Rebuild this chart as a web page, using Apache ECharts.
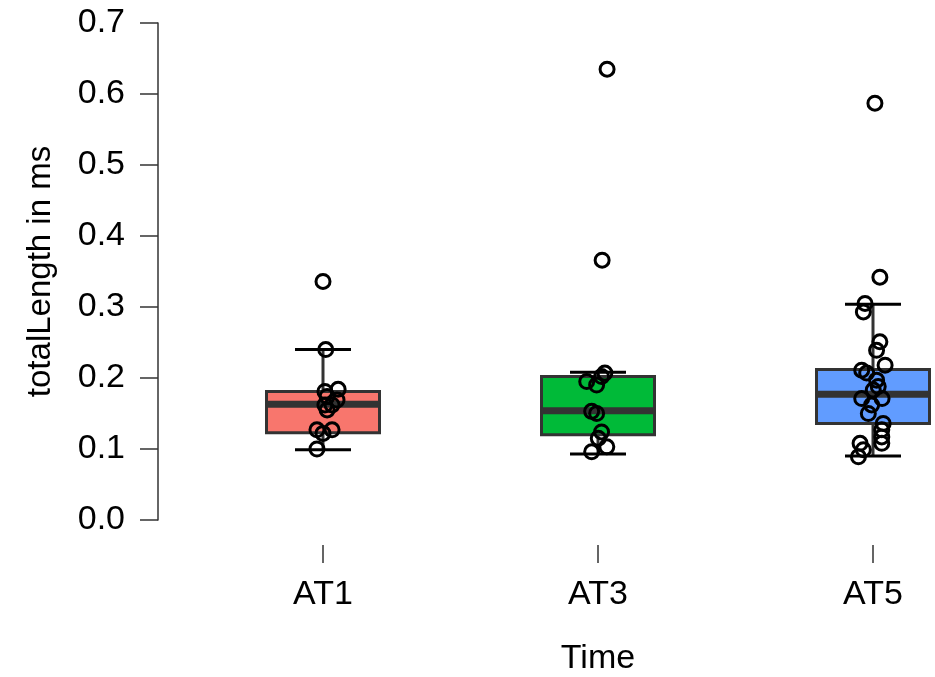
<!DOCTYPE html>
<html><head><meta charset="utf-8">
<script src="https://cdn.jsdelivr.net/npm/echarts@6/dist/echarts.min.js"></script>
<style>html,body{margin:0;padding:0;background:#fff}#c{width:935px;height:677px}</style>
</head><body><div id="c"></div>
<script>
// ---- data ----
const categories = ['AT1', 'AT3', 'AT5'];
const boxColors = ['#F8766D', '#00BA38', '#619CFF'];
// [min whisker, Q1, median, Q3, max whisker]
const boxAT1 = [0.099, 0.123, 0.163, 0.181, 0.240];
const boxAT3 = [0.093, 0.120, 0.154, 0.202, 0.208];
const boxAT5 = [0.090, 0.136, 0.177, 0.212, 0.304];
// jittered points: [x position (category index 1..3 + jitter), value]
const pointsAT1 = [[1.000,0.336],[1.010,0.240],[1.055,0.184],[1.007,0.181],[1.015,0.174],[1.051,0.169],
  [1.007,0.162],[1.033,0.162],[1.015,0.155],[0.978,0.127],[1.033,0.127],[1.000,0.122],[0.978,0.100]];
const pointsAT3 = [[2.033,0.635],[2.015,0.366],[2.025,0.207],[2.013,0.202],[1.959,0.195],[1.995,0.190],
  [1.977,0.153],[1.995,0.150],[2.013,0.124],[2.001,0.115],[2.032,0.103],[1.977,0.096]];
const pointsAT5 = [[3.007,0.587],[3.025,0.342],[2.971,0.305],[2.965,0.293],[3.025,0.251],[3.013,0.239],
  [3.044,0.218],[2.959,0.211],[2.977,0.207],[3.013,0.197],[3.019,0.188],[3.001,0.183],[2.959,0.171],
  [3.033,0.171],[2.995,0.162],[2.983,0.150],[3.037,0.136],[3.032,0.127],[3.032,0.117],[3.032,0.108],
  [2.953,0.108],[2.965,0.099],[2.947,0.089]];
const yTicks = [0, 0.1, 0.2, 0.3, 0.4, 0.5, 0.6, 0.7];

// ---- chart ----
const FONT = "'Liberation Sans', Arial, sans-serif";
const boxData = [boxAT1, boxAT3, boxAT5].map((b, i) => [i + 1].concat(b));
const chart = echarts.init(document.getElementById('c'));
chart.setOption({
  backgroundColor: '#fff',
  animation: false,
  grid: [
    { left: 158, top: 23, width: 880, height: 497, outerBoundsMode: 'none', containLabel: false },
    // category axis sits a little below the plotting area, bands of 275px centred on data positions 1,2,3
    { left: 185.5, top: 23, width: 825, height: 522, outerBoundsMode: 'none', containLabel: false }
  ],
  xAxis: [
    { type: 'value', gridIndex: 0, min: 0.4, max: 3.6, show: false },
    {
      type: 'category', gridIndex: 1, data: categories, boundaryGap: true,
      axisLine: { show: false }, splitLine: { show: false },
      axisTick: { show: true, alignWithLabel: true, length: 18, lineStyle: { color: '#333', width: 1.5 } },
      axisLabel: { fontSize: 34, color: '#000', margin: 33, fontFamily: FONT },
      name: 'Time', nameLocation: 'middle', nameGap: 97,
      nameTextStyle: { fontSize: 34, color: '#000', fontFamily: FONT }
    }
  ],
  yAxis: [
    {
      type: 'value', gridIndex: 0, min: yTicks[0], max: yTicks[yTicks.length - 1], interval: 0.1,
      axisLine: { show: true, lineStyle: { color: '#333', width: 1.5 } },
      axisTick: { show: true, length: 18, lineStyle: { color: '#333', width: 1.5 } },
      splitLine: { show: false },
      axisLabel: { formatter: v => v.toFixed(1), fontSize: 34, color: '#000', margin: 33, fontFamily: FONT },
      name: 'totalLength in ms', nameLocation: 'middle', nameGap: 101,
      nameTextStyle: { fontSize: 33, color: '#000', fontFamily: FONT }
    },
    { type: 'value', gridIndex: 1, min: 0, max: 1, show: false }
  ],
  series: [
    {
      type: 'custom', clip: false, z: 2, xAxisIndex: 0, yAxisIndex: 0,
      data: boxData,
      encode: { x: 0, y: [1, 2, 3, 4, 5] },
      renderItem: function (params, api) {
        const x = api.value(0);
        const lo = api.coord([x, api.value(1)]);
        const q1 = api.coord([x, api.value(2)]);
        const md = api.coord([x, api.value(3)]);
        const q3 = api.coord([x, api.value(4)]);
        const hi = api.coord([x, api.value(5)]);
        const cx = lo[0], bw = 113, cw = 56, stroke = '#333';
        return { type: 'group', children: [
          { type: 'line', shape: { x1: cx, y1: hi[1], x2: cx, y2: q3[1] }, style: { stroke: stroke, lineWidth: 3 } },
          { type: 'line', shape: { x1: cx, y1: q1[1], x2: cx, y2: lo[1] }, style: { stroke: stroke, lineWidth: 3 } },
          { type: 'line', shape: { x1: cx - cw / 2, y1: hi[1], x2: cx + cw / 2, y2: hi[1] }, style: { stroke: '#000', lineWidth: 3 } },
          { type: 'line', shape: { x1: cx - cw / 2, y1: lo[1], x2: cx + cw / 2, y2: lo[1] }, style: { stroke: '#000', lineWidth: 3 } },
          { type: 'rect', shape: { x: cx - bw / 2, y: q3[1], width: bw, height: q1[1] - q3[1] },
            style: { fill: boxColors[params.dataIndex], stroke: stroke, lineWidth: 3 } },
          { type: 'line', shape: { x1: cx - bw / 2, y1: md[1], x2: cx + bw / 2, y2: md[1] }, style: { stroke: stroke, lineWidth: 7 } }
        ] };
      }
    },
    ...[pointsAT1, pointsAT3, pointsAT5].map(pts => ({
      type: 'scatter', z: 5, clip: false, xAxisIndex: 0, yAxisIndex: 0, data: pts, symbol: 'circle', symbolSize: 14,
      itemStyle: { color: 'rgba(255,255,255,0)', borderColor: '#000', borderWidth: 3, opacity: 1 }
    }))
  ]
});
</script>
</body></html>
